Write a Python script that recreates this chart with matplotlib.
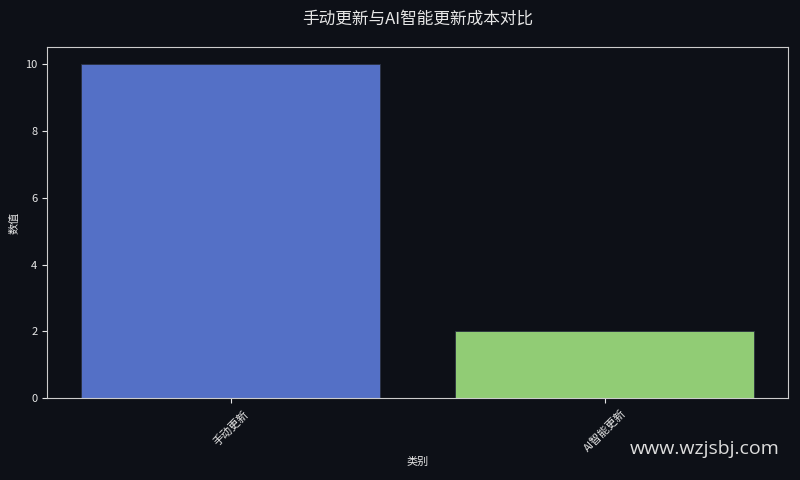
import matplotlib
matplotlib.use('Agg')
import matplotlib.pyplot as plt

plt.rcParams['font.family'] = ['Noto Sans CJK SC', 'DejaVu Sans']

# 数据
categories = ['手动更新', 'AI智能更新']
values = [10, 2]
colors = ['#5470c6', '#91cc75']

bg = '#0d1017'
fg = '#e6e6e6'

fig, ax = plt.subplots(figsize=(8, 4.8), dpi=100)
fig.patch.set_facecolor(bg)
ax.set_facecolor(bg)

ax.bar(categories, values, color=colors, width=0.8, edgecolor='#2a3040', linewidth=0.6)

ax.set_title('手动更新与AI智能更新成本对比', color=fg, fontsize=12, pad=17)
ax.set_xlabel('类别', color=fg, fontsize=8, labelpad=2)
ax.set_ylabel('数值', color=fg, fontsize=8)
ax.tick_params(colors=fg, labelsize=8)
plt.setp(ax.get_xticklabels(), rotation=45)
for s in ax.spines.values():
    s.set_color('#cccccc')

fig.text(0.975, 0.045, 'www.wzjsbj.com', color='#dddddd', fontsize=14,
         ha='right', va='bottom', family=['Open Sans', 'DejaVu Sans'])

plt.subplots_adjust(left=0.059, right=0.985, top=0.902, bottom=0.17)
plt.savefig('out.png', facecolor=bg)
plt.close()
